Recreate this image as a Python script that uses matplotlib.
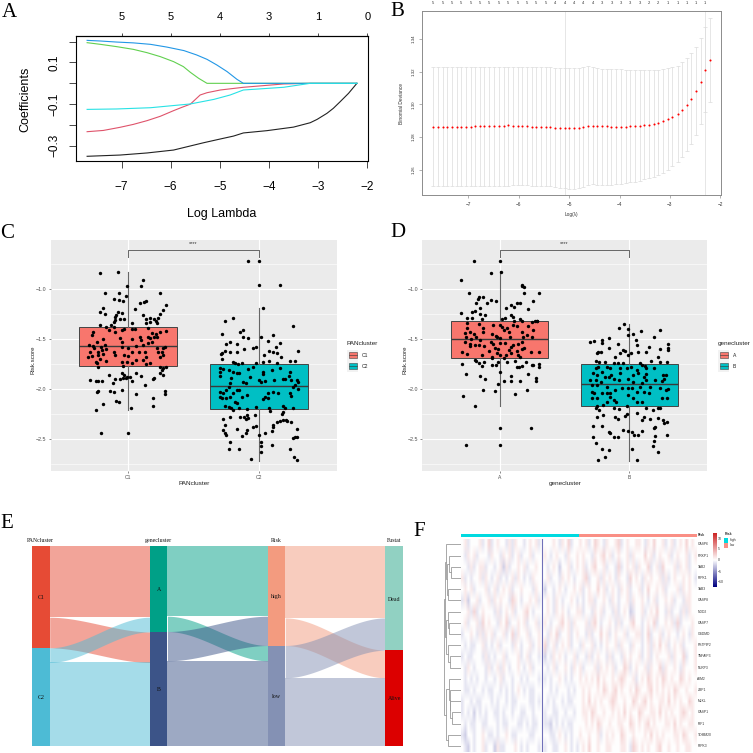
import numpy as np
import matplotlib
matplotlib.use("Agg")
import matplotlib.pyplot as plt
from matplotlib.colors import LinearSegmentedColormap, ListedColormap
from matplotlib.patches import Rectangle

plt.rcParams["font.family"] = ["Liberation Sans", "DejaVu Sans"]
SERIF = ["Liberation Serif", "DejaVu Serif"]

# panel A
path_black = ([-7.70,-7.03,-6.48,-5.94,-5.33,-4.99,-4.72,-4.52,-4.04,-3.50,-3.16,-3.02,-2.82,-2.69,-2.55,-2.38,-2.21],
              [-0.350,-0.344,-0.334,-0.320,-0.285,-0.267,-0.253,-0.238,-0.227,-0.210,-0.189,-0.173,-0.144,-0.120,-0.088,-0.048,0])
path_red = ([-7.70,-7.37,-7.03,-6.76,-6.48,-6.21,-5.94,-5.77,-5.60,-5.40,-5.26,-4.99,-4.52,-3.70,-3.16,-2.21],
            [-0.232,-0.226,-0.211,-0.197,-0.179,-0.158,-0.131,-0.115,-0.100,-0.056,-0.045,-0.032,-0.019,-0.003,0,0])
path_cyan = ([-7.70,-7.10,-6.41,-5.60,-5.12,-4.79,-4.52,-3.70,-3.16,-2.21],
             [-0.125,-0.123,-0.117,-0.099,-0.077,-0.056,-0.032,-0.019,0,0])
path_green = ([-7.70,-7.43,-7.10,-6.76,-6.48,-6.21,-5.94,-5.74,-5.60,-5.43,-5.26,-2.21],
              [0.195,0.187,0.176,0.163,0.147,0.128,0.104,0.080,0.053,0.024,0,0])
path_blue = ([-7.70,-7.43,-7.10,-6.76,-6.41,-6.08,-5.73,-5.47,-5.26,-5.06,-4.85,-4.65,-4.52,-2.21],
             [0.206,0.203,0.198,0.194,0.187,0.174,0.157,0.136,0.115,0.088,0.056,0.019,0,0])
lasso_top = ["5", "5", "4", "3", "1", "0"]

# panel B
log_lambda = [-7.70,-7.61,-7.51,-7.42,-7.33,-7.23,-7.14,-7.05,-6.95,-6.86,
              -6.77,-6.68,-6.58,-6.49,-6.40,-6.30,-6.21,-6.12,-6.02,-5.93,
              -5.84,-5.74,-5.65,-5.56,-5.46,-5.37,-5.28,-5.18,-5.09,-5.00,
              -4.91,-4.81,-4.72,-4.63,-4.53,-4.44,-4.35,-4.25,-4.16,-4.07,
              -3.97,-3.88,-3.79,-3.69,-3.60,-3.51,-3.41,-3.32,-3.23,-3.13,
              -3.04,-2.95,-2.85,-2.76,-2.67,-2.58,-2.48,-2.39,-2.30,-2.21]
cv_mean = [1.2863,1.2863,1.2863,1.2863,1.2863,1.2863,1.2863,1.2863,1.2864,1.2865,
           1.2865,1.2866,1.2867,1.2868,1.2869,1.2870,1.2871,1.2870,1.2869,1.2867,
           1.2865,1.2864,1.2863,1.2861,1.2859,1.2859,1.2857,1.2855,1.2854,1.2853,
           1.2854,1.2856,1.2859,1.2867,1.2869,1.2867,1.2866,1.2865,1.2863,1.2862,
           1.2863,1.2864,1.2865,1.2867,1.2869,1.2873,1.2876,1.2881,1.2888,1.2898,
           1.2910,1.2924,1.2943,1.2967,1.2995,1.3032,1.3081,1.3138,1.3211,1.3270]
cv_upper = [1.3226,1.3226,1.3226,1.3226,1.3226,1.3226,1.3226,1.3226,1.3230,1.3230,
            1.3230,1.3230,1.3230,1.3230,1.3230,1.3230,1.3230,1.3230,1.3230,1.3230,
            1.3226,1.3226,1.3226,1.3226,1.3226,1.3226,1.3219,1.3219,1.3219,1.3219,
            1.3219,1.3223,1.3228,1.3232,1.3228,1.3221,1.3213,1.3213,1.3213,1.3213,
            1.3213,1.3207,1.3207,1.3207,1.3207,1.3207,1.3207,1.3207,1.3209,1.3213,
            1.3219,1.3226,1.3236,1.3258,1.3280,1.3311,1.3350,1.3405,1.3470,1.3527]
cv_lower = [1.2499,1.2499,1.2499,1.2499,1.2499,1.2499,1.2499,1.2499,1.2499,1.2499,
            1.2503,1.2503,1.2503,1.2503,1.2503,1.2503,1.2503,1.2509,1.2509,1.2509,
            1.2509,1.2501,1.2501,1.2499,1.2499,1.2499,1.2493,1.2488,1.2486,1.2484,
            1.2484,1.2488,1.2497,1.2507,1.2513,1.2509,1.2505,1.2507,1.2507,1.2511,
            1.2515,1.2519,1.2523,1.2527,1.2533,1.2541,1.2550,1.2558,1.2570,1.2582,
            1.2598,1.2623,1.2645,1.2676,1.2712,1.2755,1.2810,1.2877,1.2955,1.3012]
cv_counts = [5,5,5,5,5,5,5,5,5,5,5,5,5,4,4,4,4,4,3,3,3,3,3,2,2,1,1,1,1,1]
lambda_lines = [-5.09, -2.30]

# panels C, D: (jitter, score) pairs
c1_points = [(-.22,-.84),(-.08,-.83),(.11,-.91),(-.01,-.97),(.10,-.97),(-.18,-1.04),(-.07,-1.04),(.24,-1.04),
    (-.02,-1.07),(-.11,-1.10),(-.07,-1.11),(-.04,-1.12),(-.19,-1.19),(-.22,-1.23),(-.18,-1.25),(-.08,-1.23),
    (.05,-1.20),(-.05,-1.24),(-.09,-1.26),(-.10,-1.28),(.14,-1.12),(.12,-1.13),(.09,-1.14),(.14,-1.30),
    (.11,-1.26),(.17,-1.29),(.29,-1.16),(.27,-1.21),(.24,-1.25),(.23,-1.29),(.20,-1.30),(-.10,-1.31),
    (-.11,-1.33),(-.06,-1.30),(-.03,-1.30),(.03,-1.34),(.21,-1.32),(.22,-1.34),(.17,-1.33),(.14,-1.34),
    (-.22,-1.36),(-.13,-1.36),(-.11,-1.38),(-.17,-1.38),(-.15,-1.41),(-.27,-1.43),(-.28,-1.46),(-.10,-1.43),
    (-.05,-1.41),(-.03,-1.40),(.03,-1.40),(.05,-1.40),(.15,-1.39),(.18,-1.44),(.21,-1.45),(.20,-1.48),
    (.24,-1.43),(.29,-1.42),(.22,-1.48),(.15,-1.48),(.17,-1.49),(.09,-1.48),(.10,-1.51),(.03,-1.50),
    (-.06,-1.49),(-.05,-1.53),(-.19,-1.50),(-.24,-1.53),(-.18,-1.56),(-.27,-1.57),(-.30,-1.56),(-.29,-1.63),
    (-.28,-1.67),(-.31,-1.68),(-.26,-1.59),(-.21,-1.58),(-.20,-1.61),(-.23,-1.63),(-.17,-1.60),(-.11,-1.63),
    (-.10,-1.66),(-.05,-1.58),(0,-1.59),(.03,-1.63),(.06,-1.57),(.11,-1.56),(.15,-1.54),(.18,-1.53),
    (.28,-1.58),(.27,-1.59),(.26,-1.63),(.22,-1.59),(.24,-1.68),(.27,-1.66),(.23,-1.63),(-.03,-1.66),
    (0,-1.67),(.08,-1.63),(.13,-1.63),(.14,-1.68),(-.19,-1.65),(-.23,-1.66),(-.22,-1.70),(-.17,-1.72),
    (-.25,-1.73),(-.24,-1.74),(-.23,-1.78),(-.05,-1.73),(-.01,-1.73),(.03,-1.74),(.06,-1.71),(.11,-1.71),
    (.14,-1.75),(.17,-1.74),(-.04,-1.77),(.24,-1.78),(.27,-1.79),(.26,-1.81),(.24,-1.84),(.29,-1.78),
    (.27,-1.86),(.19,-1.90),(.20,-1.89),(-.05,-1.84),(-.03,-1.86),(-.01,-1.88),(.01,-1.88),(-.04,-1.89),
    (-.02,-1.89),(.03,-1.92),(.10,-1.87),(.06,-1.84),(.13,-1.96),(-.15,-1.86),(-.10,-1.90),(-.12,-1.94),
    (-.06,-1.90),(-.29,-1.91),(-.25,-1.92),(-.23,-1.92),(-.20,-1.92),(-.23,-2.02),(-.24,-2.03),(-.14,-2.02),
    (-.11,-2.03),(-.09,-2.12),(-.07,-2.13),(-.05,-2.01),(.06,-2.05),(.02,-2.19),(-.19,-2.15),(-.25,-2.21),
    (.19,-2.09),(.19,-2.17),(.28,-2.05),(.28,-2.02),(-.21,-2.44),(0,-2.44)]
c2_points = [(-.08,-.72),(0,-.72),(0,-.96),(.16,-.96),(.03,-1.19),(-.20,-1.29),(-.26,-1.32),(.26,-1.37),
    (-.12,-1.41),(-.14,-1.43),(-.28,-1.45),(.11,-1.46),(.02,-1.48),(-.12,-1.48),(-.08,-1.49),(.07,-1.52),
    (-.22,-1.53),(-.17,-1.55),(-.25,-1.55),(.16,-1.54),(.13,-1.58),(-.02,-1.58),(-.04,-1.59),(-.11,-1.60),
    (-.26,-1.62),(-.28,-1.64),(-.29,-1.65),(-.22,-1.63),(-.17,-1.63),(.08,-1.62),(.11,-1.63),(.14,-1.64),
    (.17,-1.68),(.30,-1.62),(.04,-1.66),(-.28,-1.70),(-.20,-1.73),(-.13,-1.74),(-.02,-1.74),(.03,-1.73),
    (.08,-1.72),(.14,-1.74),(.24,-1.72),(.28,-1.72),(-.18,-1.74),(-.16,-1.75),(-.30,-1.79),(-.27,-1.80),
    (-.23,-1.81),(-.20,-1.83),(-.17,-1.84),(-.15,-1.84),(-.30,-1.83),(-.30,-1.87),(-.08,-1.80),(-.04,-1.78),
    (.03,-1.83),(.03,-1.85),(.10,-1.81),(.16,-1.79),(.24,-1.83),(.23,-1.87),(-.21,-1.89),(-.12,-1.93),
    (-.10,-1.94),(-.07,-1.88),(0,-1.91),(.02,-1.93),(.05,-1.92),(.12,-1.91),(.19,-1.90),(.20,-1.90),
    (.25,-1.91),(.29,-1.91),(.30,-1.93),(.28,-1.96),(.26,-1.98),(-.22,-1.94),(-.23,-1.98),(-.25,-2.01),
    (-.17,-2.01),(-.15,-2.01),(-.30,-2.03),(-.27,-2.04),(-.20,-2.04),(-.13,-2.08),(-.09,-2.06),(.05,-2.08),
    (.07,-2.04),(.11,-2.03),(.15,-2.04),(.24,-2.04),(.25,-2.07),(.30,-2.00),(-.30,-2.08),(-.28,-2.09),
    (-.25,-2.09),(-.22,-2.08),(-.18,-2.13),(-.17,-2.14),(.03,-2.10),(.07,-2.09),(-.26,-2.17),(-.23,-2.18),
    (-.21,-2.19),(-.20,-2.21),(-.15,-2.19),(-.09,-2.20),(-.02,-2.18),(.08,-2.19),(.09,-2.22),(.19,-2.17),
    (.20,-2.19),(.19,-2.23),(.18,-2.25),(.26,-2.19),(-.22,-2.28),(-.27,-2.30),(-.14,-2.28),(-.11,-2.28),
    (-.09,-2.26),(-.08,-2.29),(-.03,-2.26),(-.10,-2.30),(.14,-2.33),(.16,-2.32),(.19,-2.31),(.21,-2.31),
    (.22,-2.32),(.25,-2.33),(.11,-2.36),(.11,-2.38),(-.26,-2.36),(-.27,-2.41),(-.26,-2.44),(-.25,-2.46),
    (-.17,-2.40),(-.04,-2.38),(-.02,-2.37),(-.09,-2.41),(-.10,-2.44),(-.13,-2.47),(0,-2.46),(.05,-2.44),
    (.10,-2.42),(.29,-2.40),(.28,-2.48),(.26,-2.49),(.29,-2.48),(-.22,-2.53),(-.23,-2.60),(-.15,-2.60),
    (.02,-2.53),(.02,-2.57),(.10,-2.56),(.02,-2.63),(.24,-2.60),(.27,-2.68),(.29,-2.71),(-.06,-2.70)]
a_points = [(-.20,-.72),(0,-.72),(.01,-.83),(-.07,-.84),(-.30,-.91),(.17,-.96),(.19,-.98),(.17,-.97),(-.24,-1.04),
    (.19,-1.04),(.30,-1.04),(-.16,-1.08),(-.13,-1.08),(-.07,-1.11),(-.03,-1.12),(-.17,-1.10),(-.18,-1.14),
    (-.10,-1.14),(.26,-1.12),(.13,-1.14),(.16,-1.14),(.09,-1.16),(.11,-1.18),(.05,-1.19),(.22,-1.20),
    (-.15,-1.19),(-.30,-1.24),(-.21,-1.23),(-.19,-1.22),(-.11,-1.26),(-.15,-1.25),(-.25,-1.29),(-.21,-1.29),
    (-.14,-1.30),(.09,-1.26),(.10,-1.28),(.04,-1.29),(.02,-1.30),(.16,-1.30),(.17,-1.32),(.11,-1.32),
    (.27,-1.32),(.29,-1.32),(.29,-1.32),(.25,-1.33),(-.25,-1.34),(-.16,-1.35),(-.05,-1.36),(0,-1.36),
    (.10,-1.36),(.13,-1.37),(.22,-1.37),(.02,-1.38),(.06,-1.39),(-.25,-1.39),(-.13,-1.39),(.03,-1.41),
    (.17,-1.43),(.26,-1.41),(-.27,-1.44),(-.23,-1.43),(-.20,-1.45),(-.13,-1.43),(-.06,-1.45),(-.03,-1.47),
    (.07,-1.43),(.21,-1.46),(-.26,-1.48),(-.22,-1.50),(-.18,-1.48),(-.15,-1.51),(-.02,-1.48),(0,-1.49),
    (.08,-1.48),(.18,-1.48),(.25,-1.48),(-.27,-1.53),(-.23,-1.55),(-.19,-1.56),(-.16,-1.56),(-.12,-1.57),
    (-.07,-1.53),(-.05,-1.55),(0,-1.54),(.04,-1.54),(.10,-1.56),(.14,-1.55),(.17,-1.53),(-.23,-1.57),
    (-.04,-1.59),(-.01,-1.60),(.07,-1.61),(.09,-1.58),(.17,-1.60),(.19,-1.59),(-.29,-1.63),(-.25,-1.65),
    (-.14,-1.66),(-.08,-1.62),(-.02,-1.64),(.05,-1.66),(.09,-1.64),(.13,-1.62),(.14,-1.66),(.16,-1.68),
    (.24,-1.63),(.30,-1.63),(-.06,-1.69),(0,-1.66),(.03,-1.69),(-.19,-1.71),(-.18,-1.72),(-.16,-1.74),
    (-.12,-1.73),(-.06,-1.68),(-.01,-1.73),(.06,-1.73),(.12,-1.72),(.20,-1.73),(-.29,-1.75),(-.14,-1.77),
    (-.06,-1.76),(-.03,-1.76),(.13,-1.78),(.15,-1.78),(.17,-1.77),(.25,-1.76),(.26,-1.76),(.30,-1.75),
    (.30,-1.78),(-.26,-1.85),(-.15,-1.87),(-.11,-1.90),(0,-1.83),(.22,-1.85),(.09,-1.87),(.28,-1.89),
    (.03,-1.92),(.09,-1.92),(.16,-1.92),(.28,-1.92),(-.01,-1.95),(-.13,-2.01),(-.04,-2.02),(.21,-2.01),
    (.12,-2.05),(-.28,-2.07),(-.19,-2.17),(0,-2.39),(.24,-2.39),(-.26,-2.56),(0,-2.56)]
b_points = [(-.04,-1.35),(-.08,-1.39),(-.01,-1.40),(.09,-1.42),(.24,-1.41),(-.01,-1.46),(.03,-1.45),(.19,-1.48),
    (-.16,-1.49),(.05,-1.51),(-.30,-1.53),(-.27,-1.52),(-.21,-1.51),(-.21,-1.54),(.06,-1.56),(-.09,-1.55),
    (.30,-1.55),(.15,-1.58),(-.16,-1.59),(-.05,-1.61),(-.03,-1.62),(.24,-1.60),(.30,-1.59),(.30,-1.61),
    (-.24,-1.63),(-.22,-1.63),(-.25,-1.64),(.07,-1.63),(.13,-1.63),(-.07,-1.64),(.01,-1.64),(-.01,-1.66),
    (.22,-1.68),(-.11,-1.68),(-.26,-1.72),(-.23,-1.73),(-.19,-1.73),(-.12,-1.74),(-.09,-1.74),(-.05,-1.74),
    (.08,-1.74),(.10,-1.76),(.12,-1.77),(.17,-1.72),(.24,-1.73),(.29,-1.73),(-.24,-1.78),(-.26,-1.79),
    (-.17,-1.78),(-.15,-1.79),(-.07,-1.79),(-.02,-1.79),(.01,-1.78),(.06,-1.81),(.13,-1.79),(.19,-1.79),
    (-.28,-1.84),(-.25,-1.86),(-.21,-1.83),(-.19,-1.88),(-.16,-1.88),(-.14,-1.86),(-.07,-1.84),(.03,-1.86),
    (.07,-1.84),(.11,-1.88),(.13,-1.85),(.26,-1.86),(.28,-1.86),(-.30,-1.91),(-.26,-1.91),(-.22,-1.93),
    (-.12,-1.90),(-.08,-1.91),(-.01,-1.90),(.03,-1.93),(.10,-1.94),(.13,-1.91),(.20,-1.91),(.25,-1.92),
    (.27,-1.90),(-.29,-1.96),(-.25,-1.96),(-.17,-1.98),(-.11,-2.01),(-.06,-1.99),(-.01,-1.99),(.02,-1.99),
    (.08,-1.98),(.16,-1.98),(.24,-1.99),(.28,-2.01),(.30,-2.00),(-.29,-2.03),(-.27,-2.04),(-.21,-2.04),
    (-.17,-2.04),(-.15,-2.04),(-.01,-2.06),(.06,-2.03),(.11,-2.03),(.15,-2.04),(-.29,-2.09),(-.25,-2.09),
    (-.15,-2.08),(-.12,-2.11),(-.10,-2.13),(.03,-2.09),(.06,-2.13),(.25,-2.09),(.29,-2.09),(-.25,-2.17),
    (-.17,-2.13),(-.20,-2.16),(-.02,-2.17),(.10,-2.13),(-.26,-2.19),(-.23,-2.21),(-.12,-2.19),(-.08,-2.20),
    (.13,-2.19),(.18,-2.21),(.22,-2.19),(.24,-2.19),(-.25,-2.28),(-.20,-2.26),(-.02,-2.25),(-.03,-2.27),
    (-.11,-2.28),(-.09,-2.30),(.06,-2.24),(.11,-2.28),(.10,-2.31),(.16,-2.30),(.22,-2.29),(.26,-2.31),
    (.29,-2.33),(.27,-2.34),(-.28,-2.37),(-.21,-2.37),(-.05,-2.41),(-.01,-2.42),(.02,-2.43),(.04,-2.46),
    (.07,-2.46),(.10,-2.42),(.19,-2.39),(.20,-2.38),(-.15,-2.44),(-.16,-2.43),(-.12,-2.48),(-.09,-2.48),
    (-.28,-2.48),(-.26,-2.54),(.20,-2.47),(.29,-2.46),(.19,-2.52),(.18,-2.57),(.02,-2.60),(-.21,-2.60),
    (-.16,-2.61),(.22,-2.63),(-.19,-2.68),(-.24,-2.71),(.06,-2.71)]
# med, q1, q3, whisker low, whisker high
c1_box = (-1.57, -1.767, -1.383, -2.21, -0.833)
c2_box = (-1.973, -2.197, -1.747, -2.717, -1.19)
a_box = (-1.503, -1.687, -1.323, -2.17, -0.817)
b_box = (-1.947, -2.173, -1.753, -2.717, -1.353)

# panel E
pan_nodes = ["C1", "C2"]
gene_nodes = ["A", "B"]
risk_nodes = ["high", "low"]
fustat_nodes = ["Dead", "Alive"]
pan_gene = [[214, 92], [44, 250]]
gene_risk = [[211, 46], [88, 255]]
risk_fustat = [[216, 83], [97, 204]]
pan_colors = ["#E64B35", "#4DBBD5"]
gene_colors = ["#00A087", "#3C5488"]
risk_colors = ["#F39B7F", "#8491B4"]
fustat_colors = ["#91D1C2", "#DC0000"]

# panel F
gene_names = ["CASP6","PRKP1","TAB2","RIPK1","TAB3","CASP8","NOD2","CASP7","GSDMD","PSTPIP2",
              "TNFAIP3","NLRP3","AIM2","ZBP1","MLKL","CASP1","IRF1","TOMM20","RIPK3"]
risk_group = [0] * 40 + [1] * 40
# one string per gene: 4 is zero, each step is one unit, x is the dark sample
heat_rows = [
 "4534445346 3454435354 4345453x44 4543546344 5453465435 4456345445 5435464453 4534546454",
 "4354534443 5443545345 3445344x54 3454435445 4544354564 5345445354 4464534544 5345445345",
 "4435345534 4345253445 4534454x43 4542445345 4534564453 4436345453 5446345364 4453545344",
 "5343445354 3453434535 4343544x45 3443545434 4563445354 5435443645 4354544535 3454454543",
 "4545344453 4534545344 5444354x24 4345434454 5345446453 4543545344 5346445453 4445354544",
 "3524453445 3545443654 3445453x45 4354344543 4345534454 3543445354 4543453445 4534435544",
 "4453634544 4353454534 4564344x45 4354543445 5344354534 4353454234 4534546443 5344353544",
 "4534453645 4435463445 4534453x54 3445645354 4453564344 5435344564 4345463445 4536344454",
 "3445435354 5344534635 4453445x43 5463445345 4435344645 3454453445 5346344534 5443454354",
 "4343344534 3453444354 3445345x63 4534545344 3544534345 4453544354 4345354645 3454534445",
 "3433444353 4344534445 3453443x24 3545434453 4435345443 5344354544 5345345444 5354463445",
 "4354344435 3453543445 4345344x43 4534454354 5344453545 4534465345 4453544635 4454354445",
 "4343434434 4345344344 3434443x34 3445434344 5454546454 4545654453 4546545465 4544654544",
 "4334344343 3443434345 4343344x44 3434443434 4545445465 4564544546 5445645454 5465445445",
 "3443433444 3434434334 4443343x43 4344343344 4546454544 5654454465 4564544554 6454544654",
 "3434243434 4334344344 3344344x34 4334434434 4554654454 4545464544 6544554645 4544565454",
 "4343344334 4434334443 3434334x33 2434343344 4454546544 5445544654 5456454445 5464544554",
 "3244344543 3434454334 4443344x44 3345434344 5445445345 4544654454 4454645454 4455465445",
 "4324344534 4253344454 3434443x34 4334454343 4546445445 5444554365 4545445644 5445445544",
]
heat_step = 1.2
dark_sample = -7

fig = plt.figure(figsize=(7.53, 7.53), dpi=100, facecolor="white")


def px_axes(x0, y0, x1, y1):
    return fig.add_axes([x0 / 753, 1 - y1 / 753, (x1 - x0) / 753, (y1 - y0) / 753])


over = fig.add_axes([0, 0, 1, 1], zorder=10)
over.set_xlim(0, 753)
over.set_ylim(753, 0)
over.axis("off")


def note(x, y, s, size=4, **kw):
    kw.setdefault("ha", "center")
    kw.setdefault("va", "center")
    over.text(x, y, s, fontsize=size, **kw)


for letter, lx, ly in [("A", 9, 12), ("B", 397, 11), ("C", 7, 233), ("D", 398, 232), ("E", 7, 524), ("F", 419, 532)]:
    note(lx, ly, letter, size=15, family=SERIF)

# A
ax = px_axes(76.3, 36, 367.7, 161.3)
for path, col in [(path_black, "#222222"), (path_red, "#DF536B"), (path_green, "#61D04F"),
                  (path_blue, "#2297E6"), (path_cyan, "#28E2E5")]:
    ax.plot(path[0], path[1], color=col, lw=0.8)
ax.set_xlim(-7.92, -1.99)
ax.set_ylim(-0.374, 0.227)
ax.set_xticks([-7, -6, -5, -4, -3, -2])
ax.set_xticklabels(["\u22127", "\u22126", "\u22125", "\u22124", "\u22123", "\u22122"], fontsize=8.5)
ax.set_yticks([0.2, 0.1, 0, -0.1, -0.2, -0.3])
ax.set_yticklabels(["", "0.1", "", "\u22120.1", "", "\u22120.3"], rotation=90, va="center", fontsize=8.5)
ax.tick_params(axis="x", length=5, width=0.5, pad=9)
ax.tick_params(axis="y", length=5, width=0.5, pad=6.5)
top = ax.secondary_xaxis("top")
top.set_xticks([-7, -6, -5, -4, -3, -2])
top.set_xticklabels(lasso_top, fontsize=8)
top.tick_params(length=2, width=0.5, pad=8)
note(222, 214, "Log Lambda", size=9)
note(25, 99, "Coefficients", size=9, rotation=90)

# B
ax = px_axes(422.3, 11, 721, 195)
lam = np.array(log_lambda)
mean = np.array(cv_mean)
for line_x in lambda_lines:
    ax.axvline(line_x, color="#dcdcdc", lw=0.5)
ax.errorbar(lam, mean, yerr=[mean - np.array(cv_lower), np.array(cv_upper) - mean], fmt="none",
            ecolor="#dcdcdc", elinewidth=0.5, capsize=1.7, capthick=0.5)
ax.scatter(lam, mean, s=2.2, color="red", lw=0, zorder=3)
ax.set_xlim(-7.913, -1.987)
ax.set_ylim(1.2446, 1.357)
ax.set_xticks([-7, -6, -5, -4, -3, -2])
ax.set_xticklabels(["\u22127", "\u22126", "\u22125", "\u22124", "\u22123", "\u22122"], fontsize=3.4, color="#333333")
ax.set_yticks([1.26, 1.28, 1.30, 1.32, 1.34])
ax.set_yticklabels(["1.26", "1.28", "1.30", "1.32", "1.34"], rotation=90, va="center", fontsize=3.2, color="#333333")
ax.tick_params(length=2, width=0.4, pad=3, color="#777777")
for s in ax.spines.values():
    s.set_color("#8c8c8c")
    s.set_linewidth(0.7)
top = ax.secondary_xaxis("top")
top.set_xticks(log_lambda[::2])
top.set_xticklabels([str(c) for c in cv_counts], fontsize=3, color="#333333")
top.tick_params(length=0, pad=4.5)
top.spines["top"].set_visible(False)
note(571.5, 214, "Log(\u03bb)", size=3.4, color="#333333")
note(402, 103, "Binomial Deviance", size=3.5, rotation=90, color="#333333")


# C, D
def box_panel(box, names, title, pts1, pts2, st1, st2, xlim):
    ax = px_axes(*box)
    ax.set_facecolor("#EBEBEB")
    for s in ax.spines.values():
        s.set_visible(False)
    stats = []
    for st in (st1, st2):
        stats.append(dict(med=st[0], q1=st[1], q3=st[2], whislo=st[3], whishi=st[4]))
    parts = ax.bxp(stats, positions=[1, 2], widths=0.75, patch_artist=True, showcaps=False, showfliers=False,
                   boxprops=dict(edgecolor="#444444", linewidth=0.7),
                   medianprops=dict(color="#3a3a3a", linewidth=1.0),
                   whiskerprops=dict(color="#666666", linewidth=0.8), zorder=2)
    parts["boxes"][0].set_facecolor("#F8766D")
    parts["boxes"][1].set_facecolor("#00BFC4")
    for pos, pts in [(1, pts1), (2, pts2)]:
        arr = np.array(pts)
        ax.scatter(pos + arr[:, 0], arr[:, 1], s=6, color="black", lw=0, zorder=3)
    ax.set_xlim(*xlim)
    ax.set_ylim(-2.817, -0.51)
    ax.set_xticks([1, 2])
    ax.set_xticklabels(names, fontsize=3.6, color="#4D4D4D")
    ax.set_yticks([-1.0, -1.5, -2.0, -2.5])
    ax.set_yticklabels(["\u22121.0", "\u22121.5", "\u22122.0", "\u22122.5"], fontsize=3.8, color="#4D4D4D")
    ax.set_yticks([-0.75, -1.25, -1.75, -2.25, -2.75], minor=True)
    ax.grid(True, which="major", color="white", lw=0.8)
    ax.grid(True, which="minor", axis="y", color="white", lw=0.4)
    ax.set_axisbelow(True)
    ax.tick_params(which="major", length=1.5, width=0.4, color="#333333", pad=1.5)
    ax.tick_params(which="minor", length=0)
    ax.plot([1, 1, 2, 2], [-0.677, -0.613, -0.613, -0.677], color="#666666", lw=0.7, zorder=4)
    ax.text(1.5, -0.55, "****", fontsize=4, ha="center", va="center", color="#333333")
    return ax


box_panel((50.7, 240, 337, 470.7), ["C1", "C2"], "PANcluster", c1_points, c2_points, c1_box, c2_box, (0.406, 2.6))
box_panel((422.3, 240, 706.7, 470.7), ["A", "B"], "genecluster", a_points, b_points, a_box, b_box, (0.403, 2.597))
note(33, 360, "Risk.score", size=4.4, rotation=90, color="#222222")
note(405, 360, "Risk.score", size=4.4, rotation=90, color="#222222")
note(194, 483, "PANcluster", size=4.6, color="#222222")
note(565, 483, "genecluster", size=4.6, color="#222222")


def box_legend(x, y, title, names):
    note(x, y, title, size=4.6, ha="left", color="#222222")
    for i, (name, col) in enumerate(zip(names, ["#F8766D", "#00BFC4"])):
        ky = y + 6 + i * 11
        over.add_patch(Rectangle((x + 1, ky), 11, 11, fc="#F2F2F2", ec="none"))
        over.add_patch(Rectangle((x + 2.5, ky + 2.5), 8, 6, fc=col, ec="#444444", lw=0.4))
        over.plot([x + 2.5, x + 10.5], [ky + 5.5, ky + 5.5], color="#333333", lw=0.4)
        note(x + 15, ky + 5.5, name, size=3.6, ha="left", color="#222222")


box_legend(346.5, 343.5, "PANcluster", ["C1", "C2"])
box_legend(717.5, 343.5, "genecluster", ["A", "B"])

# E
ax = px_axes(32, 546, 403, 745.7)
NODE_W = 0.15
columns = [pan_nodes, gene_nodes, risk_nodes, fustat_nodes]
col_colors = [pan_colors, gene_colors, risk_colors, fustat_colors]
flow_tables = [pan_gene, gene_risk, risk_fustat]


def stacked(sizes):
    edges = [0]
    for s in sizes:
        edges.append(edges[-1] + s)
    return edges


t = np.linspace(0, 1, 60)
smooth = 3 * t ** 2 - 2 * t ** 3
for c, table in enumerate(flow_tables):
    tab = np.array(table)
    left_edges = stacked(tab.sum(axis=1))
    right_edges = stacked(tab.sum(axis=0))
    xs = c + NODE_W + (1 - NODE_W) * t
    for i in range(2):
        left_pos = left_edges[i]
        for j in range(2):
            right_pos = right_edges[j] + tab[:i, j].sum()
            size = tab[i, j]
            low = left_pos + (right_pos - left_pos) * smooth
            ax.fill_between(xs, low, low + size, color=col_colors[c][i], alpha=0.5, lw=0)
            left_pos += size
for c, names in enumerate(columns):
    if c < 3:
        sizes = np.array(flow_tables[c]).sum(axis=1)
    else:
        sizes = np.array(flow_tables[2]).sum(axis=0)
    edges = stacked(sizes)
    for k, name in enumerate(names):
        ax.add_patch(Rectangle((c, edges[k]), NODE_W, sizes[k], fc=col_colors[c][k], ec="none"))
        ax.text(c + NODE_W / 2, edges[k] + sizes[k] / 2 + 3, name, ha="center", va="center",
                fontsize=4.2, family=SERIF, color="#111111")
ax.set_xlim(0, 3 + NODE_W)
ax.set_ylim(600, 0)
ax.axis("off")
for hx, head in [(40.7, "PANcluster"), (158.7, "genecluster"), (276.7, "Risk"), (394.3, "Fustat")]:
    note(hx, 540.7, head, size=4.2, family=SERIF, color="#111111")

# F
heat = np.array([[np.nan if ch == "x" else (int(ch) - 4) * heat_step for ch in row.replace(" ", "")]
                 for row in heat_rows], dtype=float)
dark_col = np.where(np.isnan(heat[0]))[0][0]
heat[:, dark_col] = 0
heat_cmap = LinearSegmentedColormap.from_list("navy_red", ["#000080", "white", "#CD2626"])
ax = px_axes(461, 538.7, 696.7, 751.7)
ax.imshow(heat, aspect="auto", cmap=heat_cmap, vmin=-12.5, vmax=12.5, interpolation="bilinear")
ax.axvline(dark_col, color=heat_cmap((dark_sample + 12.5) / 25), lw=0.8)
ax.axis("off")

ax = px_axes(461, 533.7, 696.7, 537.3)
ax.imshow([risk_group], aspect="auto", cmap=ListedColormap(["#00DAE0", "#FA8F85"]), interpolation="nearest")
ax.axis("off")

# hierarchical merges: child a, child b, height (child ids above 18 are earlier merges)
tree_merges = [(2, 3, 10), (1, 19, 12), (4, 5, 12.7), (20, 21, 14), (0, 22, 15),
               (7, 8, 12), (6, 24, 13.5), (10, 11, 11), (9, 26, 13), (25, 27, 15.5), (23, 28, 16.5),
               (15, 16, 9), (14, 30, 10.7), (13, 31, 11.5), (12, 32, 12.2), (17, 18, 13.5), (33, 34, 15),
               (29, 35, 17.5)]
ax = px_axes(441, 538.7, 461, 751.7)
node_pos = {i: (i, 0) for i in range(len(gene_names))}
for m, (a, b, h) in enumerate(tree_merges):
    ya, ha = node_pos[a]
    yb, hb = node_pos[b]
    ax.plot([ha, h, h, hb], [ya, ya, yb, yb], color="#9a9a9a", lw=0.6, solid_joinstyle="miter")
    node_pos[len(gene_names) + m] = ((ya + yb) / 2, h)
ax.set_xlim(20, 0)
ax.set_ylim(18.5, -0.5)
ax.axis("off")

note(697.5, 535.5, "Risk", size=2.4, ha="left", color="#333333", fontweight="bold")
for i, gene in enumerate(gene_names):
    note(697.5, 538.7 + (i + 0.5) * 213 / 19, gene, size=2.4, ha="left", color="#333333")

ax = px_axes(712.7, 533.3, 716, 587.3)
ax.imshow(np.linspace(12.5, -12.5, 100).reshape(-1, 1), aspect="auto", cmap=heat_cmap, vmin=-12.5, vmax=12.5)
ax.axis("off")
for tick, tick_y in [("10", 539), ("5", 549.3), ("0", 560.3), ("\u22125", 571.7), ("\u221210", 582.3)]:
    note(717.7, tick_y, tick, size=2.5, ha="left", color="#333333")
note(724.5, 534.3, "Risk", size=2.5, ha="left", color="#333333", fontweight="bold")
over.add_patch(Rectangle((724, 537.7), 4.4, 5, fc="#00DAE0", ec="none"))
over.add_patch(Rectangle((724, 543), 4.4, 5, fc="#FA8F85", ec="none"))
note(729.5, 540.2, "high", size=2.5, ha="left", color="#333333")
note(729.5, 545.5, "low", size=2.5, ha="left", color="#333333")

fig.savefig("out.png", dpi=100)
